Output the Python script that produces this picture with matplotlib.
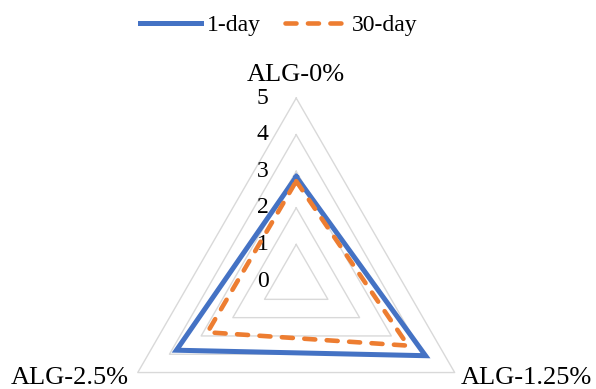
import numpy as np
import matplotlib.pyplot as plt

categories = ["ALG-0%", "ALG-1.25%", "ALG-2.5%"]
day1 = [2.85, 4.08, 3.78]
day30 = [2.73, 3.53, 2.8]
levels = [0, 1, 2, 3, 4, 5]

plt.rcParams['font.family'] = ['Liberation Serif', 'DejaVu Serif']

fig = plt.figure(figsize=(5.96, 3.89), dpi=100)
ax = fig.add_axes([0.190, -0.193, 0.614, 0.941], projection='polar')
ax.set_theta_offset(np.pi / 2)
ax.set_theta_direction(-1)
ax.set_ylim(0, 5)
ax.grid(False)
ax.spines['polar'].set_visible(False)
ax.set_xticks([])
ax.set_yticks([])
ax.patch.set_visible(False)

theta = np.linspace(0, 2 * np.pi, len(categories), endpoint=False)
tc = np.append(theta, theta[0])

# triangular grid
for lv in levels[1:]:
    ax.plot(tc, [lv] * len(tc), color='#D9D9D9', lw=1.0, clip_on=False, zorder=1)

l1, = ax.plot(tc, day1 + day1[:1], color='#4472C4', lw=3.6, clip_on=False,
              solid_joinstyle='miter', zorder=3)
l2, = ax.plot(tc, day30 + day30[:1], color='#ED7D31', lw=3.3, ls=(0, (2.4, 2.5)),
              dash_capstyle='round', clip_on=False, zorder=4)

# radial value labels
for lv in levels:
    ax.annotate(str(lv), xy=(0, lv), xytext=(-24, 0), textcoords='offset points',
                ha='center', va='center', fontsize=17, annotation_clip=False)

# category labels
ax.annotate(categories[0], xy=(0, 5), xytext=(0, 16.5), textcoords='offset points',
            ha='center', va='center', fontsize=19, annotation_clip=False)
ax.annotate(categories[1], xy=(theta[1], 5), xytext=(4.5, -3.8), textcoords='offset points',
            ha='left', va='center', fontsize=19, annotation_clip=False)
ax.annotate(categories[2], xy=(theta[2], 5), xytext=(-6.5, -3.8), textcoords='offset points',
            ha='right', va='center', fontsize=19, annotation_clip=False)

fig.legend([l1, l2], ["1-day", "30-day"], loc='center', bbox_to_anchor=(0.468, 0.935),
           ncol=2, frameon=False, fontsize=17, handlelength=2.6, columnspacing=1.0,
           handletextpad=0.25)

fig.savefig('out.png', dpi=100)
